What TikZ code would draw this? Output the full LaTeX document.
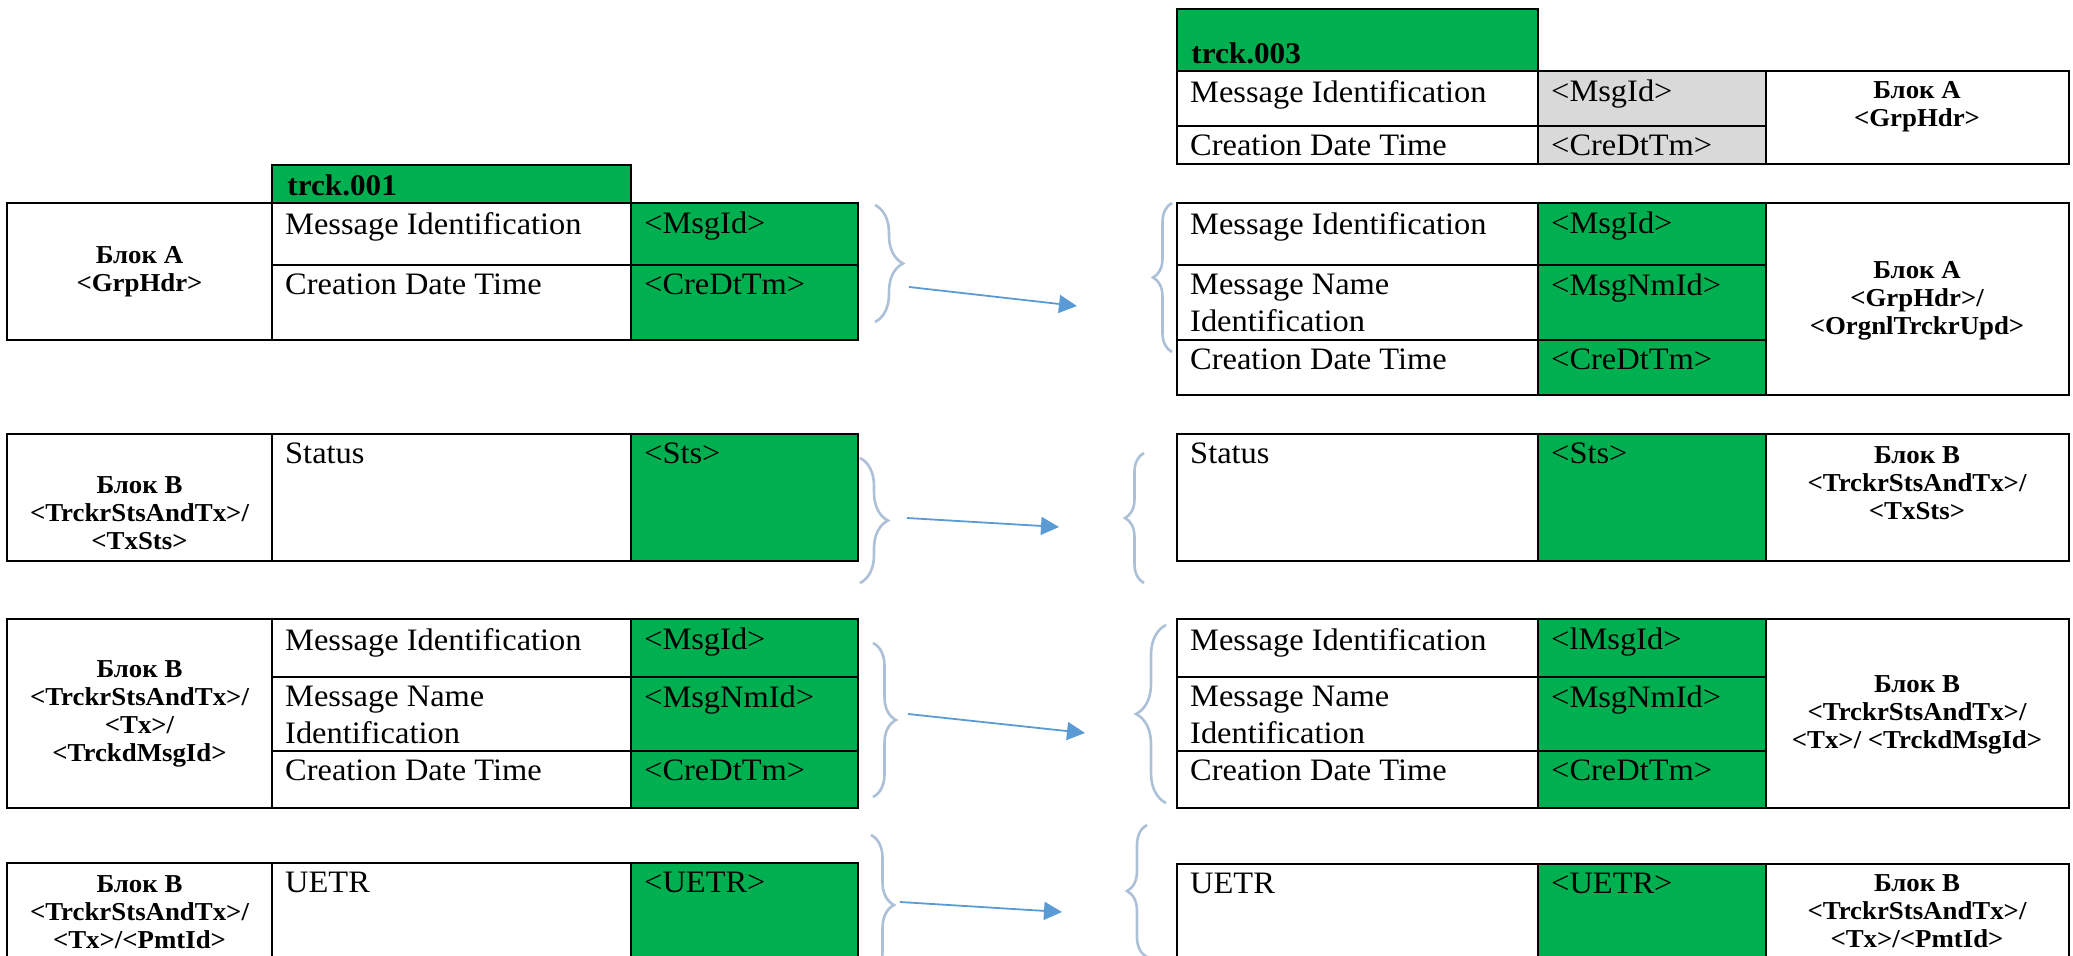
\documentclass[tikz,border=0pt]{standalone}
\usepackage{fontspec}
\setmainfont{Liberation Serif}[FakeStretch=1.04]
\usetikzlibrary{arrows.meta,decorations.pathreplacing}
\definecolor{trgreen}{RGB}{0,176,80}
\definecolor{trgray}{RGB}{217,217,217}
\definecolor{bracegray}{RGB}{172,192,215}
\definecolor{arrowblue}{RGB}{91,155,213}
\tikzset{
  cellbox/.style={draw=black,line width=1.2pt,inner sep=0pt},
  greenbox/.style={cellbox,fill=trgreen},
  graybox/.style={cellbox,fill=trgray},
  celltext/.style={anchor=north west,inner sep=0pt,align=left,font=\fontsize{15.6}{18.5}\selectfont},
  hdrtext/.style={anchor=base west,inner sep=0pt,font=\bfseries\fontsize{15}{17}\selectfont},
  blocklabel/.style={inner sep=0pt,align=center,font=\bfseries\fontsize{12.9}{14}\selectfont},
  curly/.style={decorate,decoration={brace,amplitude=#1},draw=bracegray,line width=1.3pt},
  maparrow/.style={draw=arrowblue,line width=0.9pt,-{Triangle[length=9pt,width=9pt]}}
}
\newcommand{\tabbox}[6]{\node[#2,minimum width={(#5-#3)*0.5pt},minimum height={(#6-#4)*0.5pt}] (#1) at ({(#3+#5)/2},{(#4+#6)/2}) {};}
\newcommand{\tabcell}[7]{\tabbox{#1}{#2}{#3}{#4}{#5}{#6}\node[celltext] (#1-t) at ([shift={(14,10)}]#1.north west) {#7};}
\begin{document}
\begin{tikzpicture}[x=0.5pt,y=-0.5pt]
\useasboundingbox (0,0) rectangle (2073,956);
\clip (0,0) rectangle (2073,956);

\tabbox{th}{greenbox}{1177}{9}{1538}{71}
\node[hdrtext] (th-t) at (1191,64) {trck.003};
\tabcell{t11}{cellbox}{1177}{71}{1538}{126}{Message Identification}
\tabcell{t12}{graybox}{1538}{71}{1766}{126}{<MsgId>}
\tabcell{t21}{cellbox}{1177}{126}{1538}{164}{Creation Date Time}
\tabcell{t22}{graybox}{1538}{126}{1766}{164}{<CreDtTm>}
\tabbox{tl}{cellbox}{1766}{71}{2069}{164}
\node[blocklabel] (tl-t) at (1917,107) {Блок A\\<GrpHdr>};

\tabbox{ah}{greenbox}{272}{165}{631}{203}
\node[hdrtext] (ah-t) at (287,196) {trck.001};
\tabbox{al}{cellbox}{7}{203}{272}{340}
\node[blocklabel] (al-t) at (139.5,272) {Блок A\\<GrpHdr>};
\tabcell{a11}{cellbox}{272}{203}{631}{265}{Message Identification}
\tabcell{a12}{greenbox}{631}{203}{858}{265}{<MsgId>}
\tabcell{a21}{cellbox}{272}{265}{631}{340}{Creation Date Time}
\tabcell{a22}{greenbox}{631}{265}{858}{340}{<CreDtTm>}

\tabcell{b11}{cellbox}{1177}{203}{1538}{265}{Message Identification}
\tabcell{b12}{greenbox}{1538}{203}{1766}{265}{<MsgId>}
\tabcell{b21}{cellbox}{1177}{265}{1538}{340}{Message Name\\Identification}
\tabcell{b22}{greenbox}{1538}{265}{1766}{340}{<MsgNmId>}
\tabcell{b31}{cellbox}{1177}{340}{1538}{395}{Creation Date Time}
\tabcell{b32}{greenbox}{1538}{340}{1766}{395}{<CreDtTm>}
\tabbox{bl}{cellbox}{1766}{203}{2069}{395}
\node[blocklabel] (bl-t) at (1917,301) {Блок A\\<GrpHdr>/\\<OrgnlTrckrUpd>};

\tabbox{cl}{cellbox}{7}{434}{272}{561}
\node[blocklabel] (cl-t) at (139.5,513) {Блок B\\<TrckrStsAndTx>/\\<TxSts>};
\tabcell{c11}{cellbox}{272}{434}{631}{561}{Status}
\tabcell{c12}{greenbox}{631}{434}{858}{561}{<Sts>}

\tabcell{d11}{cellbox}{1177}{434}{1538}{561}{Status}
\tabcell{d12}{greenbox}{1538}{434}{1766}{561}{<Sts>}
\tabbox{dl}{cellbox}{1766}{434}{2069}{561}
\node[blocklabel] (dl-t) at (1917,483) {Блок B\\<TrckrStsAndTx>/\\<TxSts>};

\tabbox{el}{cellbox}{7}{619}{272}{808}
\node[blocklabel] (el-t) at (139.5,714) {Блок B\\<TrckrStsAndTx>/\\<Tx>/\\<TrckdMsgId>};
\tabcell{e11}{cellbox}{272}{619}{631}{677}{Message Identification}
\tabcell{e12}{greenbox}{631}{619}{858}{677}{<MsgId>}
\tabcell{e21}{cellbox}{272}{677}{631}{751}{Message Name\\Identification}
\tabcell{e22}{greenbox}{631}{677}{858}{751}{<MsgNmId>}
\tabcell{e31}{cellbox}{272}{751}{631}{808}{Creation Date Time}
\tabcell{e32}{greenbox}{631}{751}{858}{808}{<CreDtTm>}

\tabcell{f11}{cellbox}{1177}{619}{1538}{677}{Message Identification}
\tabcell{f12}{greenbox}{1538}{619}{1766}{677}{<lMsgId>}
\tabcell{f21}{cellbox}{1177}{677}{1538}{751}{Message Name\\Identification}
\tabcell{f22}{greenbox}{1538}{677}{1766}{751}{<MsgNmId>}
\tabcell{f31}{cellbox}{1177}{751}{1538}{808}{Creation Date Time}
\tabcell{f32}{greenbox}{1538}{751}{1766}{808}{<CreDtTm>}
\tabbox{fl}{cellbox}{1766}{619}{2069}{808}
\node[blocklabel] (fl-t) at (1917,715) {Блок B\\<TrckrStsAndTx>/\\<Tx>/ <TrckdMsgId>};

\tabbox{gl}{cellbox}{7}{863}{272}{975}
\node[blocklabel] (gl-t) at (139.5,912) {Блок B\\<TrckrStsAndTx>/\\<Tx>/<PmtId>};
\tabcell{g11}{cellbox}{272}{863}{631}{975}{UETR}
\tabcell{g12}{greenbox}{631}{863}{858}{975}{<UETR>}

\tabcell{h11}{cellbox}{1177}{864}{1538}{975}{UETR}
\tabcell{h12}{greenbox}{1538}{864}{1766}{975}{<UETR>}
\tabbox{hl}{cellbox}{1766}{864}{2069}{975}
\node[blocklabel] (hl-t) at (1917,911) {Блок B\\<TrckrStsAndTx>/\\<Tx>/<PmtId>};

\draw[curly=14pt] (875,205) -- (875,322);
\draw[curly=9.5pt] (1172,352) -- (1172,203);
\draw[curly=14pt] (860,458) -- (860,583);
\draw[curly=9.5pt] (1144,583) -- (1144,453);
\draw[curly=11.5pt] (873,643) -- (873,797);
\draw[curly=15pt] (1166,803) -- (1166,625);
\draw[curly=11.5pt] (871,835) -- (871,975);
\draw[curly=10pt] (1147,957) -- (1147,825);

\coordinate (a1s) at (909,287); \coordinate (a1e) at (1077,306);
\coordinate (a2s) at (907,518); \coordinate (a2e) at (1059,527);
\coordinate (a3s) at (908,714); \coordinate (a3e) at (1085,733);
\coordinate (a4s) at (900,902); \coordinate (a4e) at (1062,912);
\draw[maparrow] (a1s) -- (a1e);
\draw[maparrow] (a2s) -- (a2e);
\draw[maparrow] (a3s) -- (a3e);
\draw[maparrow] (a4s) -- (a4e);
\end{tikzpicture}
\end{document}
